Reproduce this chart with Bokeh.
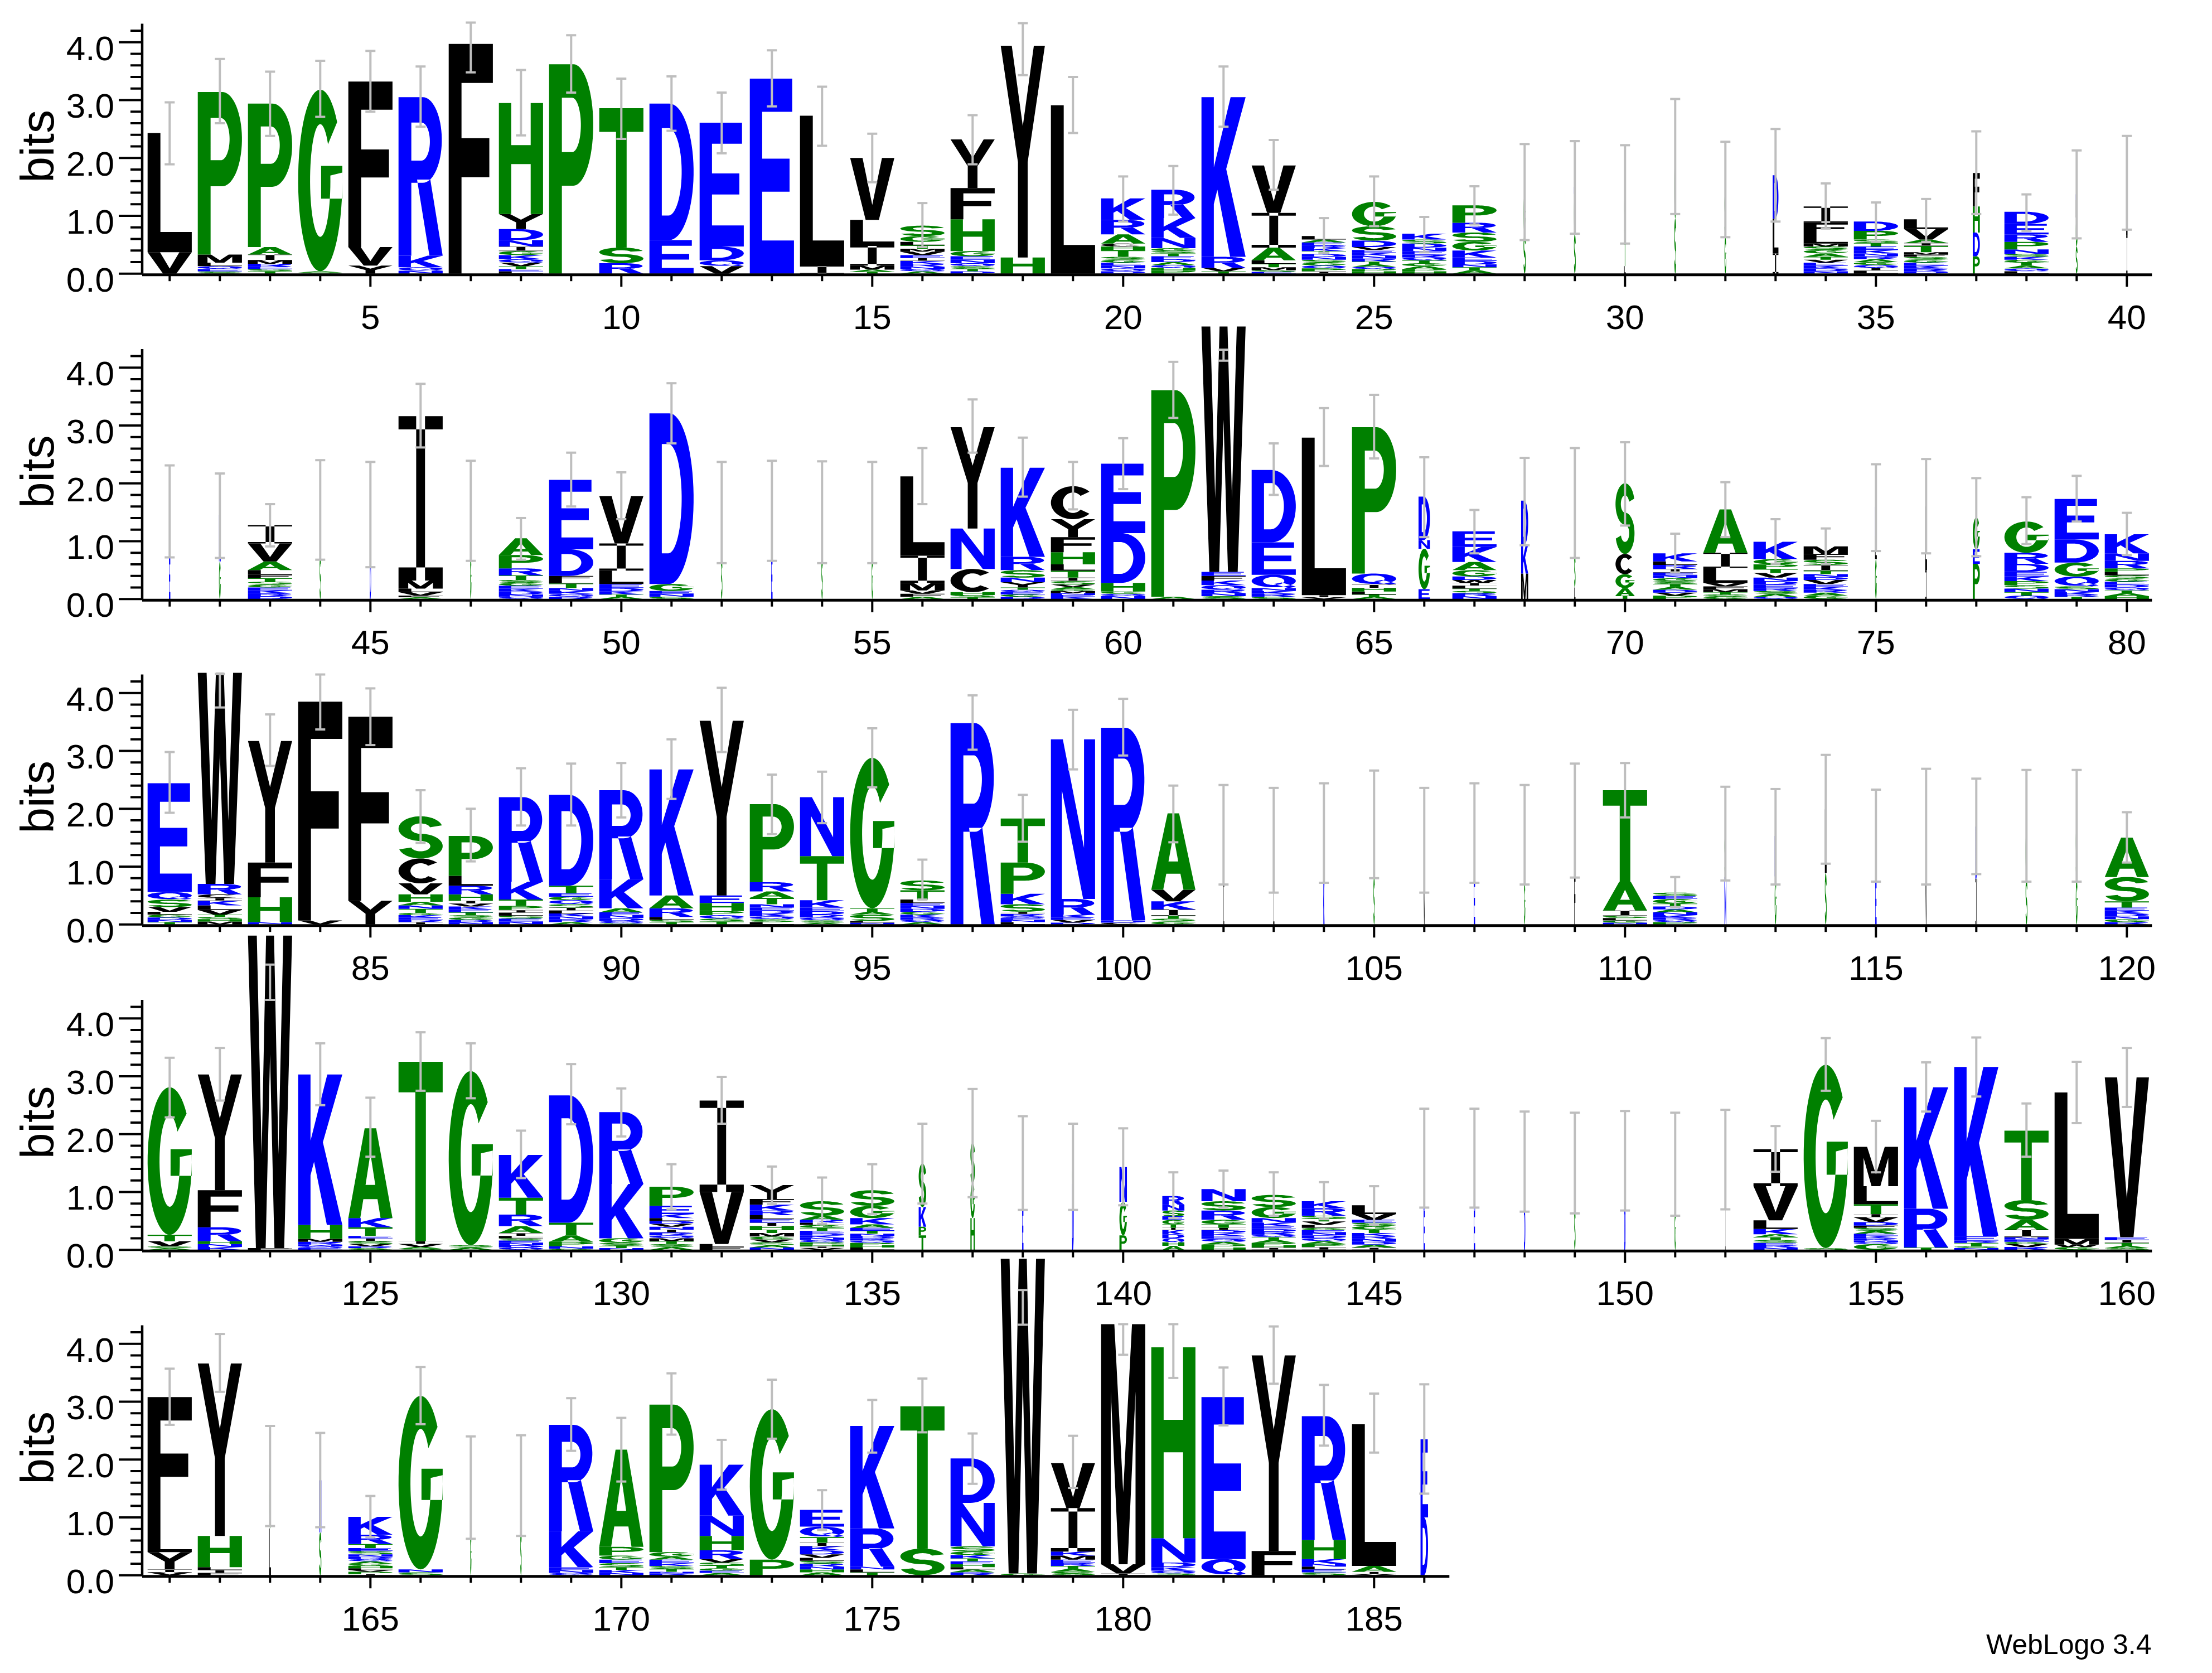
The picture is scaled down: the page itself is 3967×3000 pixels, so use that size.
import numpy as np
from bokeh.plotting import figure
from bokeh.models import ColumnDataSource
from bokeh.embed import file_html
from bokeh.resources import INLINE
from bokeh.core.properties import value

# ---------------- data (read from the reference logo) ----------------
# each stack: letters from top to bottom, "<letter><height in bits>"
ROW1_STACKS = [
    "L2.06 V0.37",
    "P2.81 M0.14 L0.06 Q0.05 E0.04 S0.04",
    "P2.48 A0.13 I0.10 M0.06 R0.05 E0.04 S0.04 T0.04",
    "G3.14 A0.02 S0.02",
    "F2.86 V0.32 Y0.14",
    "R2.74 K0.20 Q0.06 N0.05",
    "F3.97",
    "H1.92 Y0.26 D0.19 N0.11 I0.08 G0.07 K0.07 Q0.06 V0.06 T0.05 E0.04 L0.04",
    "P3.62",
    "T2.41 S0.27 R0.18",
    "D2.36 E0.58",
    "E2.14 D0.24 Q0.10 V0.13",
    "E3.37",
    "L2.60 I0.13",
    "V1.07 L0.45 I0.34 M0.07 A0.04 T0.03",
    "S0.18 G0.10 L0.06 T0.06 M0.05 V0.06 E0.05 I0.05 K0.05 R0.05 N0.04 Q0.04 A0.04",
    "Y0.84 F0.54 H0.55 G0.09 E0.06 N0.06 Q0.05 S0.05 T0.04 D0.04",
    "Y3.66 H0.28",
    "L2.91",
    "K0.37 R0.25 A0.16 C0.05 H0.06 T0.12 S0.05 G0.05 E0.05 N0.05 Q0.05 D0.04",
    "R0.49 K0.34 N0.18 G0.05 S0.04 T0.05 E0.05 D0.05 A0.05 Q0.05 H0.05 P0.05",
    "K2.76 R0.19 V0.06 T0.04",
    "V0.82 I0.60 A0.22 L0.06 T0.06 M0.05 S0.03 E0.03",
    "L0.06 A0.05 E0.05 R0.05 K0.05 T0.05 D0.05 N0.05 S0.05 G0.05 Q0.05 P0.05 I0.04",
    "G0.42 S0.25 D0.11 V0.05 E0.05 K0.05 N0.05 R0.05 T0.05 A0.04 Q0.04 P0.04 H0.04",
    "K0.10 S0.07 D0.07 N0.06 E0.06 R0.05 Q0.05 T0.05 G0.05 A0.05 P0.04 H0.04",
    "P0.30 R0.17 S0.16 G0.15 K0.12 E0.06 D0.06 N0.05 T0.05 A0.06",
    "G0.70 S0.68",
    "D0.12 G0.70 S0.68",
    "S0.80 T0.45 L0.13",
    "G1.10 S0.95",
    "S0.80 G0.63",
    "D0.75 L0.60 I0.35",
    "I0.28 F0.19 L0.17 M0.05 S0.06 G0.06 A0.06 T0.05 V0.05 E0.05 K0.05 D0.05 N0.04",
    "D0.16 P0.15 S0.06 T0.06 E0.06 K0.06 N0.05 R0.05 A0.05 G0.05 Q0.05 I0.05 L0.05",
    "L0.17 V0.18 A0.06 I0.05 T0.11 M0.04 F0.04 S0.05 G0.05 E0.05 K0.05 R0.05 D0.04",
    "F0.58 H0.45 D0.41 P0.30",
    "D0.21 E0.18 R0.13 P0.13 N0.08 S0.05 K0.05 G0.05 T0.05 A0.05 Q0.05 L0.04",
    "N0.10 L0.30 G0.50 S0.47",
    "L0.90 I0.67",
]
ROW2_STACKS = [
    "D0.80 E0.72",
    "N0.80 G0.65",
    "I0.32 V0.31 A0.15 L0.08 F0.06 T0.06 S0.05 G0.05 E0.05 K0.05 R0.05 D0.05",
    "G0.80 S0.74",
    "L0.80 D0.66",
    "I2.84 M0.14 L0.06 V0.06 F0.03 A0.03",
    "S0.80 G0.72",
    "A0.29 P0.23 R0.12 T0.08 S0.05 G0.05 E0.05 K0.05 D0.05 N0.04 Q0.04",
    "E1.20 D0.46 F0.07 L0.06 T0.08 N0.05 K0.05 Q0.05 R0.04",
    "V0.82 I0.47 L0.23 E0.07 D0.06 K0.05 T0.04 A0.04",
    "D2.95 G0.12 E0.05 N0.05 S0.04",
    "G0.80 S0.70",
    "D0.80 E0.72",
    "G0.80 S0.70",
    "S0.80 G0.70",
    "L1.37 I0.47 M0.13 V0.06 F0.05 A0.04",
    "Y1.75 N0.70 C0.40 H0.05 S0.04 T0.03",
    "K1.54 R0.23 S0.13 N0.08 Y0.09 T0.04 Q0.04 E0.04 G0.04 D0.04",
    "C0.57 Y0.31 F0.26 H0.21 L0.11 T0.12 I0.06 S0.06 V0.04 A0.04 G0.03 M0.04 N0.03 E0.03 K0.04",
    "E1.20 D0.86 H0.15 G0.04 Q0.04 N0.05",
    "P3.57 A0.04",
    "W4.24 E0.07 F0.08 K0.08 Q0.08 R0.06 N0.05 S0.05",
    "D1.25 E0.56 Q0.23 N0.05 K0.05 R0.05 S0.04",
    "L2.72 I0.04 V0.03",
    "P2.53 Q0.19 I0.06 H0.06 L0.05 T0.04 A0.04",
    "D0.75 N0.15 G0.70 E0.17",
    "E0.27 K0.26 A0.14 G0.11 D0.06 W0.05 I0.05 L0.05 T0.04 S0.04 R0.05 N0.05",
    "D0.76 K0.50 M0.44",
    "G0.90 S0.56 L0.20",
    "S1.22 C0.35 G0.24 A0.13 T0.06",
    "K0.14 L0.06 R0.07 I0.06 E0.05 N0.05 G0.05 S0.05 T0.05 A0.05 D0.05 V0.05 P0.06",
    "A0.75 I0.26 L0.26 V0.06 F0.05 M0.05 T0.04 S0.04 G0.04",
    "K0.30 G0.09 P0.08 T0.07 V0.08 N0.06 D0.06 E0.06 R0.05 S0.05 A0.05 Q0.04",
    "M0.13 F0.10 S0.09 I0.10 T0.06 N0.05 D0.05 V0.07 E0.05 K0.05 R0.05 A0.05 G0.06",
    "N0.50 L0.40 G0.69",
    "L1.10 I0.50",
    "G0.55 E0.25 P0.61",
    "G0.54 R0.19 D0.14 E0.08 K0.08 P0.07 S0.06 N0.06 T0.06 Q0.06",
    "E0.70 D0.40 G0.24 Q0.17 S0.05 N0.05 K0.04 R0.04 T0.04",
    "K0.33 N0.13 R0.13 P0.06 L0.06 S0.06 G0.05 E0.05 D0.05 Q0.05 T0.05 A0.05 H0.05",
]
ROW3_STACKS = [
    "E1.88 Q0.13 S0.13 V0.08 L0.05 G0.05 D0.04 N0.04 T0.04",
    "W3.65 R0.18 C0.06 I0.05 K0.08 L0.08 V0.08 T0.04 S0.04 H0.04 M0.05",
    "Y2.10 F0.60 H0.43 N0.04",
    "F3.78 V0.07",
    "F3.18 Y0.41",
    "S0.73 C0.43 V0.19 H0.13 A0.06 N0.06 T0.07 G0.04 K0.04 E0.04 R0.04 I0.04",
    "P0.69 L0.17 R0.15 H0.11 I0.05 V0.05 K0.05 E0.05 T0.05 S0.04 G0.04 D0.04 N0.04",
    "R1.46 K0.31 T0.11 P0.07 I0.05 L0.05 S0.05 E0.05 N0.05",
    "D1.57 T0.13 E0.06 G0.06 Q0.07 S0.06 I0.05 L0.05 K0.05 N0.05 R0.05 A0.04",
    "R1.54 K0.50 A0.07 E0.05 N0.05 D0.05 Q0.04 S0.02",
    "K2.18 A0.22 R0.15 L0.05 S0.04 T0.04",
    "Y3.02 E0.13 H0.14 P0.07 Q0.06 S0.05 T0.05",
    "P1.35 R0.16 A0.11 T0.11 N0.06 E0.05 D0.05 K0.05 Q0.05 S0.05 L0.04",
    "N1.02 T0.76 K0.13 E0.06 D0.06 R0.05 Q0.05 S0.04 A0.03",
    "G2.60 T0.06 A0.05 S0.11 L0.03 N0.03",
    "S0.17 T0.16 L0.06 E0.05 N0.05 D0.05 G0.05 K0.05 R0.04 Q0.04 A0.04",
    "R3.48",
    "T0.76 P0.54 K0.18 S0.13 I0.04 R0.04 Q0.03 E0.03 N0.04 L0.04",
    "N2.76 R0.27 K0.05 E0.04 V0.05 D0.03",
    "R3.33 D0.04 C0.03",
    "A1.32 V0.20 K0.14 I0.11 T0.05 S0.05 G0.05",
    "L0.85 I0.70",
    "V0.80 I0.66",
    "E0.80 K0.78",
    "G0.90 S0.82",
    "L0.80 V0.66",
    "K0.80 E0.78",
    "S0.80 G0.73",
    "L0.90 F0.89",
    "T1.58 A0.50 I0.09 S0.04 L0.04 G0.04 N0.03",
    "S0.06 E0.05 G0.08 T0.05 D0.05 A0.05 N0.05 K0.04 R0.04 Q0.04 P0.04",
    "S0.75 N0.82",
    "D0.70 G0.83",
    "L1.10 S0.89",
    "K0.80 E0.75",
    "L0.90 V0.79",
    "D0.90 I0.79",
    "G0.90 S0.80",
    "S0.90 G0.79",
    "A0.68 S0.42 T0.11 E0.05 K0.05 D0.05 N0.05 G0.05 R0.04",
]
ROW4_STACKS = [
    "G2.55 T0.11 V0.09 S0.03 A0.03",
    "Y2.00 F0.64 R0.24 H0.05 N0.05 K0.05",
    "W5.40 F0.03",
    "K2.60 H0.24 M0.05 R0.05 N0.03 Q0.03 E0.03",
    "A1.55 K0.16 T0.15 E0.04 I0.05 S0.05 V0.04 R0.03 G0.03",
    "T3.10 I0.05 V0.05 A0.03 S0.02",
    "G3.01 S0.04 A0.04",
    "K0.74 T0.29 R0.20 A0.12 I0.05 L0.04 S0.04 E0.04 N0.04 D0.04 Q0.04",
    "D2.20 T0.22 A0.11 P0.08 N0.04 G0.02",
    "R1.24 K0.94 G0.08 S0.05 T0.04 N0.03",
    "P0.33 E0.14 K0.07 L0.05 D0.05 V0.05 N0.05 I0.05 R0.05 Q0.05 M0.05 T0.05 S0.05 A0.05",
    "I1.58 V0.90 L0.05 F0.05",
    "Y0.24 F0.10 K0.10 R0.08 L0.07 E0.06 I0.06 H0.06 T0.06 M0.06 G0.05 V0.05 S0.05 A0.04 N0.04",
    "S0.25 A0.07 R0.05 L0.04 G0.05 T0.05 E0.04 D0.04 K0.04 N0.04 Q0.04 P0.04 H0.03 I0.03 V0.03",
    "S0.27 G0.21 K0.11 A0.06 E0.05 T0.05 N0.04 D0.04 R0.04 Q0.04 P0.04 H0.04 L0.04",
    "S0.75 K0.34 P0.15 T0.25",
    "S0.70 G0.60 H0.55",
    "D0.80 E0.71",
    "G0.30 D1.14",
    "N0.60 G0.58 P0.25",
    "R0.15 N0.10 S0.10 E0.06 G0.08 T0.06 I0.04 K0.07 D0.07 Q0.07 H0.06 A0.07",
    "N0.21 S0.16 R0.16 G0.08 T0.06 I0.04 D0.05 K0.05 E0.05 Q0.05 A0.05 P0.05 H0.04",
    "S0.21 G0.19 N0.08 K0.06 E0.05 D0.05 R0.05 Q0.04 T0.05 A0.05 P0.04 H0.04 I0.04",
    "K0.12 R0.13 S0.05 T0.05 V0.06 L0.05 G0.04 E0.04 N0.05 D0.05 Q0.05 A0.05 P0.05 I0.05",
    "L0.15 V0.10 E0.05 S0.06 G0.06 T0.06 K0.05 R0.05 N0.05 D0.05 A0.05 I0.04",
    "D0.90 E0.68",
    "K0.90 E0.68",
    "N0.80 D0.73",
    "G0.80 S0.71",
    "E0.80 D0.75",
    "S0.80 G0.68",
    "L0.80 I0.76",
    "I0.64 V0.59 L0.15 K0.09 A0.05 T0.05 S0.05 E0.04 R0.04 N0.04",
    "G3.17 S0.03",
    "M0.68 L0.31 T0.17 I0.06 V0.08 D0.06 F0.04 S0.05 A0.05 E0.04 K0.04 R0.04 N0.03 Q0.03 G0.10",
    "K2.10 R0.67 T0.04",
    "K2.92 E0.08 R0.04 T0.06 S0.03 N0.03",
    "T1.20 S0.34 A0.17 I0.13 N0.04 E0.04 G0.04 V0.05 R0.05",
    "L2.53 M0.10 W0.04 G0.05",
    "V2.76 E0.05 I0.05 T0.05 A0.04 S0.03",
]
ROW5_STACKS = [
    "F2.38 L0.30 Y0.30 I0.05 V0.05",
    "Y2.98 H0.54 L0.05 I0.05 F0.04",
    "G0.90 L0.81",
    "N0.90 S0.74",
    "K0.31 R0.16 T0.07 E0.05 S0.06 N0.04 D0.04 Q0.04 A0.04 G0.04 H0.04 L0.03 V0.03 P0.04 I0.02",
    "G3.00 N0.05 S0.05",
    "S0.80 G0.72",
    "G0.80 S0.75",
    "R1.84 K0.62 E0.05 N0.05 Q0.04",
    "A1.68 P0.15 G0.07 E0.06 S0.07 T0.05 K0.05 N0.04",
    "P2.55 G0.08 A0.05 E0.06 K0.05 S0.05 T0.05 N0.03 R0.03",
    "K0.88 N0.35 H0.25 R0.15 V0.06 S0.05 T0.05 G0.04 E0.04 A0.04",
    "G2.60 P0.27",
    "E0.29 Q0.18 T0.10 I0.06 K0.07 D0.07 V0.06 L0.05 S0.05 R0.05 N0.05 H0.05 A0.05",
    "K1.77 R0.66 N0.05 L0.05 T0.05",
    "T2.46 S0.46",
    "D0.77 N0.75 S0.09 G0.06 K0.06 T0.05 E0.05 H0.05 L0.04 A0.05 R0.05",
    "W5.44 G0.03",
    "V0.78 I0.75 K0.07 M0.07 E0.06 R0.05 T0.05 A0.05 S0.06",
    "M4.15 V0.16 I0.03",
    "H3.30 N0.42 D0.08 K0.06 Q0.05 S0.03",
    "E2.80 Q0.28",
    "Y3.38 F0.42",
    "R2.14 H0.33 K0.08 N0.05 L0.05 E0.05 S0.05",
    "L2.45 A0.10 I0.04 V0.02",
    "E1.35 D1.00",
]

# error bar ends (bits)
ROW1_ERR_LO = [1.89, 2.60, 2.38, 2.71, 2.80, 2.54, 3.48, 2.39, 3.13, 2.33, 2.47, 2.08, 2.89, 2.21, 1.58, 0.46, 1.89, 3.43, 2.43, 0.90,
               1.02, 2.54, 1.45, 0.36, 0.82, 0.37, 0.85, 0.58, 0.69, 0.52, 1.03, 0.63, 0.90, 0.78, 0.55, 0.55, 1.03, 0.74, 0.61, 0.76]
ROW1_ERR_HI = [2.96, 3.71, 3.49, 3.68, 3.85, 3.58, 4.34, 3.52, 4.12, 3.37, 3.41, 3.13, 3.86, 3.23, 2.42, 1.22, 2.74, 4.33, 3.40, 1.68,
               1.86, 3.58, 2.31, 0.96, 1.68, 0.98, 1.51, 2.24, 2.29, 2.22, 3.02, 2.28, 2.50, 1.56, 1.23, 1.29, 2.46, 1.37, 2.13, 2.38]
ROW2_ERR_LO = [0.72, 0.71, 0.91, 0.68, 0.55, 2.62, 0.66, 0.68, 1.60, 1.38, 2.69, 0.62, 0.66, 0.62, 0.62, 1.64, 2.53, 1.77, 1.55, 1.90,
               3.13, 4.12, 1.80, 2.30, 2.43, 1.07, 0.79, 0.93, 0.71, 1.27, 0.46, 1.07, 0.61, 0.61, 0.83, 0.79, 0.74, 0.95, 1.34, 0.76]
ROW2_ERR_HI = [2.31, 2.17, 1.64, 2.40, 2.37, 3.72, 2.39, 1.40, 2.53, 2.19, 3.73, 2.37, 2.39, 2.38, 2.37, 2.61, 3.45, 2.79, 2.37, 2.78,
               4.10, 4.31, 2.69, 3.30, 3.53, 2.45, 1.54, 2.44, 2.61, 2.71, 1.13, 2.02, 1.38, 1.22, 2.33, 2.42, 2.09, 1.76, 2.13, 1.49]
ROW3_ERR_LO = [1.93, 3.75, 2.74, 3.37, 3.10, 1.41, 1.09, 1.71, 1.71, 1.85, 2.17, 2.98, 1.56, 1.75, 2.37, 0.43, 3.02, 1.43, 2.68, 2.92,
               1.42, 0.69, 0.55, 0.72, 0.80, 0.55, 0.72, 0.69, 0.81, 1.85, 0.30, 0.76, 0.69, 1.05, 0.74, 0.69, 0.87, 0.74, 0.74, 1.07]
ROW3_ERR_HI = [2.98, 4.33, 3.63, 4.32, 4.08, 2.32, 2.00, 2.70, 2.78, 2.79, 3.20, 4.09, 2.59, 2.64, 3.39, 1.12, 3.96, 2.24, 3.71, 3.90,
               2.40, 2.41, 2.36, 2.44, 2.66, 2.36, 2.44, 2.41, 2.78, 2.79, 0.82, 2.38, 2.34, 2.93, 2.33, 2.69, 2.52, 2.67, 2.67, 1.94]
ROW4_ERR_LO = [2.29, 2.58, 4.32, 2.50, 1.61, 2.75, 2.62, 1.24, 2.17, 1.96, 0.70, 2.18, 0.79, 0.45, 0.62, 0.80, 0.91, 0.69, 0.69, 0.77,
               0.55, 0.73, 0.59, 0.53, 0.43, 0.73, 0.73, 0.66, 0.63, 0.68, 0.59, 0.70, 1.35, 2.75, 1.34, 2.39, 2.65, 1.61, 2.19, 2.47]
ROW4_ERR_HI = [3.32, 3.49, 4.93, 3.57, 2.63, 3.76, 3.57, 2.06, 3.21, 2.79, 1.48, 2.99, 1.44, 1.25, 1.48, 2.18, 2.78, 2.31, 2.18, 2.10,
               1.34, 1.37, 1.34, 1.17, 1.10, 2.44, 2.44, 2.39, 2.37, 2.40, 2.37, 2.42, 2.14, 3.66, 2.23, 3.24, 3.67, 2.53, 3.25, 3.49]
ROW5_ERR_LO = [2.60, 3.17, 0.85, 0.83, 0.66, 2.61, 0.63, 0.68, 2.15, 1.62, 2.43, 1.48, 2.36, 0.78, 2.12, 2.47, 1.58, 4.33, 1.51, 3.81,
               3.41, 2.59, 3.31, 2.24, 2.12, 1.41]
ROW5_ERR_HI = [3.57, 4.17, 2.58, 2.46, 1.37, 3.60, 2.40, 2.42, 3.06, 2.72, 3.49, 2.34, 3.38, 1.47, 3.03, 3.40, 2.45, 4.93, 2.41, 4.34,
               4.34, 3.59, 4.30, 3.29, 3.14, 3.30]

# fraction of full stack width (columns with many gaps are drawn narrow)
STACK_WIDTH = {28: 0.05, 29: 0.04, 30: 0.04, 31: 0.04, 32: 0.04, 33: 0.13, 37: 0.16, 39: 0.04, 40: 0.03,
               41: 0.03, 42: 0.04, 44: 0.03, 45: 0.03, 47: 0.03, 52: 0.03, 53: 0.03, 54: 0.03, 55: 0.03,
               66: 0.26, 68: 0.16, 69: 0.03, 70: 0.43, 75: 0.04, 76: 0.04, 77: 0.16,
               102: 0.03, 103: 0.03, 104: 0.03, 105: 0.03, 106: 0.03, 107: 0.03, 108: 0.03, 109: 0.03,
               112: 0.04, 113: 0.04, 114: 0.04, 115: 0.03, 116: 0.03, 117: 0.04, 118: 0.04, 119: 0.04,
               136: 0.17, 137: 0.10, 138: 0.03, 139: 0.04, 140: 0.17, 141: 0.50,
               146: 0.03, 147: 0.03, 148: 0.03, 149: 0.03, 150: 0.03, 151: 0.03, 152: 0.01,
               163: 0.04, 164: 0.05, 167: 0.03, 168: 0.03, 186: 0.17}

Y_TICKS = [0, 1, 2, 3, 4]
Y_TICK_LABELS = ["0.0", "1.0", "2.0", "3.0", "4.0"]
Y_MINOR_TICKS = [0.2, 0.4, 0.6, 0.8, 1.2, 1.4, 1.6, 1.8, 2.2, 2.4, 2.6, 2.8, 3.2, 3.4, 3.6, 3.8, 4.2]
COLOR_GROUPS = {"#008000": "AGHPST", "#0000ff": "DEKNQR", "#000000": "CFILMVWY"}

ROWS = [ROW1_STACKS, ROW2_STACKS, ROW3_STACKS, ROW4_STACKS, ROW5_STACKS]
ERR_LO = [ROW1_ERR_LO, ROW2_ERR_LO, ROW3_ERR_LO, ROW4_ERR_LO, ROW5_ERR_LO]
ERR_HI = [ROW1_ERR_HI, ROW2_ERR_HI, ROW3_ERR_HI, ROW4_ERR_HI, ROW5_ERR_HI]

# ---------------- layout constants ----------------
W_PX, H_PX = 3951, 2984
PX_PER_POS = 90.0
PX_PER_BIT = 103.75
X0 = 1 - 303.8 / PX_PER_POS
X1 = X0 + W_PX / PX_PER_POS
Y1 = 490.2 / PX_PER_BIT
Y0 = Y1 - H_PX / PX_PER_BIT
ROW_STEP = 583.5 / PX_PER_BIT
LETTER_W = 0.88
AXIS_X = 0.452
YMAX = 4.32
FONT = "Liberation Sans"


def px_x(p):
    return p / PX_PER_POS


def px_y(p):
    return p / PX_PER_BIT


# ---------------- letter outlines in a unit box ----------------
def seg(points):
    a = np.array(points, dtype=float)
    return a[:, 0], a[:, 1]


def arc(cx, cy, rx, ry, a0, a1, n=36):
    t = np.radians(np.linspace(a0, a1, n))
    return cx + rx * np.cos(t), cy + ry * np.sin(t)


def ring(*parts):
    return (np.concatenate([q[0] for q in parts]), np.concatenate([q[1] for q in parts]))


def rect(x0, y0, x1, y1):
    return ring(seg([(x0, y0), (x1, y0), (x1, y1), (x0, y1)]))


def s_shape():
    tx, ty = 0.28, 0.17
    rx = 0.5 - tx / 2
    ry = (0.5 - ty / 2) / 2
    c1 = 1 - ty / 2 - ry
    c2 = ty / 2 + ry
    at = np.radians(np.linspace(15, 270, 44))
    ab = np.radians(np.linspace(90, -165, 44))
    tox, toy = 0.5 + (rx + tx / 2) * np.cos(at), c1 + (ry + ty / 2) * np.sin(at)
    tix, tiy = 0.5 + (rx - tx / 2) * np.cos(at), c1 + (ry - ty / 2) * np.sin(at)
    box, boy = 0.5 + (rx + tx / 2) * np.cos(ab), c2 + (ry + ty / 2) * np.sin(ab)
    bix, biy = 0.5 + (rx - tx / 2) * np.cos(ab), c2 + (ry - ty / 2) * np.sin(ab)
    ax, ay = np.concatenate([tox, bix]), np.concatenate([toy, biy])
    bx, by = np.concatenate([tix, box]), np.concatenate([tiy, boy])
    return [[(np.concatenate([ax, bx[::-1]]), np.concatenate([ay, by[::-1]]))]]


GLYPHS = {
    "A": [[ring(seg([(0, 0), (0.37, 1), (0.63, 1), (1, 0), (0.73, 0), (0.66, 0.21), (0.34, 0.21), (0.27, 0)])),
           ring(seg([(0.39, 0.37), (0.61, 0.37), (0.5, 0.72)]))]],
    "C": [[ring(arc(0.5, 0.5, 0.5, 0.5, 42, 318, 48), arc(0.5, 0.5, 0.23, 0.31, 318, 42, 48))]],
    "D": [[ring(seg([(0, 0), (0, 1), (0.45, 1)]), arc(0.45, 0.5, 0.55, 0.5, 90, -90)),
           ring(seg([(0.28, 0.18), (0.28, 0.82), (0.43, 0.82)]), arc(0.43, 0.5, 0.3, 0.32, 90, -90))]],
    "E": [[ring(seg([(0, 0), (0, 1), (0.96, 1), (0.96, 0.83), (0.28, 0.83), (0.28, 0.59), (0.9, 0.59), (0.9, 0.42),
                     (0.28, 0.42), (0.28, 0.17), (1, 0.17), (1, 0)]))]],
    "F": [[ring(seg([(0, 0), (0, 1), (1, 1), (1, 0.83), (0.29, 0.83), (0.29, 0.59), (0.92, 0.59), (0.92, 0.42),
                     (0.29, 0.42), (0.29, 0)]))]],
    "G": [[ring(arc(0.5, 0.5, 0.5, 0.5, 40, 365, 56), arc(0.5, 0.5, 0.23, 0.31, 365, 40, 56))],
          [rect(0.52, 0.40, 1.0, 0.58)]],
    "H": [[ring(seg([(0, 0), (0, 1), (0.28, 1), (0.28, 0.62), (0.72, 0.62), (0.72, 1), (1, 1), (1, 0), (0.72, 0),
                     (0.72, 0.45), (0.28, 0.45), (0.28, 0)]))]],
    "I": [[rect(0, 0.92, 1, 1)], [rect(0.4, 0, 0.6, 1)], [rect(0, 0, 1, 0.08)]],
    "K": [[ring(seg([(0, 0), (0, 1), (0.28, 1), (0.28, 0.56), (0.66, 1), (1, 1), (0.56, 0.55), (1, 0), (0.65, 0),
                     (0.36, 0.42), (0.28, 0.33), (0.28, 0)]))]],
    "L": [[ring(seg([(0, 0), (0, 1), (0.29, 1), (0.29, 0.17), (1, 0.17), (1, 0)]))]],
    "M": [[ring(seg([(0, 0), (0, 1), (0.3, 1), (0.5, 0.3), (0.7, 1), (1, 1), (1, 0), (0.78, 0), (0.78, 0.72),
                     (0.6, 0), (0.4, 0), (0.22, 0.72), (0.22, 0)]))]],
    "N": [[ring(seg([(0, 0), (0, 1), (0.27, 1), (0.75, 0.32), (0.75, 1), (1, 1), (1, 0), (0.73, 0), (0.25, 0.68),
                     (0.25, 0)]))]],
    "P": [[ring(seg([(0, 0), (0, 1), (0.55, 1)]), arc(0.55, 0.71, 0.45, 0.29, 90, -90), seg([(0.29, 0.42), (0.29, 0)])),
           ring(seg([(0.29, 0.58), (0.29, 0.84), (0.52, 0.84)]), arc(0.52, 0.71, 0.2, 0.13, 90, -90))]],
    "Q": [[ring(arc(0.5, 0.53, 0.5, 0.47, 0, 360, 64)), ring(arc(0.5, 0.53, 0.24, 0.3, 0, 360, 64))],
          [ring(seg([(0.5, 0.3), (0.68, 0.42), (1.0, 0.1), (0.84, 0.0)]))]],
    "R": [[ring(seg([(0, 0), (0, 1), (0.55, 1)]), arc(0.55, 0.73, 0.43, 0.27, 90, -90), seg([(0.29, 0.46), (0.29, 0)])),
           ring(seg([(0.29, 0.6), (0.29, 0.84), (0.52, 0.84)]), arc(0.52, 0.72, 0.19, 0.12, 90, -90))],
          [ring(seg([(0.42, 0.48), (0.72, 0.48), (1.0, 0), (0.7, 0)]))]],
    "S": s_shape(),
    "T": [[ring(seg([(0, 1), (1, 1), (1, 0.83), (0.62, 0.83), (0.62, 0), (0.38, 0), (0.38, 0.83), (0, 0.83)]))]],
    "V": [[ring(seg([(0, 1), (0.28, 1), (0.5, 0.24), (0.72, 1), (1, 1), (0.65, 0), (0.35, 0)]))]],
    "W": [[ring(seg([(0, 1), (0.2, 1), (0.31, 0.3), (0.41, 1), (0.59, 1), (0.69, 0.3), (0.8, 1), (1, 1), (0.82, 0),
                     (0.6, 0), (0.5, 0.62), (0.4, 0), (0.18, 0)]))]],
    "Y": [[ring(seg([(0, 1), (0.25, 1), (0.5, 0.62), (0.75, 1), (1, 1), (0.61, 0.45), (0.61, 0), (0.39, 0),
                     (0.39, 0.45)]))]],
}


def signed_area(x, y):
    return 0.5 * np.sum(x * np.roll(y, -1) - np.roll(x, -1) * y)


for k, polys in GLYPHS.items():
    fixed = []
    for poly in polys:
        new = []
        for j, (x, y) in enumerate(poly):
            a = signed_area(x, y)
            if (j == 0 and a < 0) or (j > 0 and a > 0):
                x, y = x[::-1], y[::-1]
            new.append((x, y))
        fixed.append(new)
    GLYPHS[k] = fixed

LETTER_COLOR = {ch: col for col, chars in COLOR_GROUPS.items() for ch in chars}

# ---------------- build marks ----------------
let_xs, let_ys, let_col = [], [], []
eb = dict(x0=[], y0=[], x1=[], y1=[])
cap = dict(x0=[], y0=[], x1=[], y1=[])
cap_half = px_x(9)

for r, row in enumerate(ROWS):
    base = -r * ROW_STEP
    for i, stack in enumerate(row):
        pos = r * 40 + i + 1
        c = i + 1
        w = STACK_WIDTH.get(pos, 1.0) * LETTER_W
        items = [(t[0], float(t[1:])) for t in stack.split()]
        y = base
        for ch, h in reversed(items):
            xs_l, ys_l = [], []
            for poly in GLYPHS[ch]:
                xs_l.append([list(c - w / 2 + gx * w) for gx, gy in poly])
                ys_l.append([list(y + gy * h) for gx, gy in poly])
            let_xs.append(xs_l)
            let_ys.append(ys_l)
            let_col.append(LETTER_COLOR[ch])
            y += h
        lo = base + ERR_LO[r][i]
        hi = base + ERR_HI[r][i]
        eb["x0"].append(c); eb["x1"].append(c); eb["y0"].append(lo); eb["y1"].append(hi)
        for yy in (lo, hi):
            cap["x0"].append(c - cap_half); cap["x1"].append(c + cap_half)
            cap["y0"].append(yy); cap["y1"].append(yy)

p = figure(width=W_PX, height=H_PX, x_range=(X0, X1), y_range=(Y0, Y1),
           output_backend="svg", toolbar_location=None, x_axis_type=None, y_axis_type=None,
           min_border=0, outline_line_color=None, background_fill_color="white")
p.grid.visible = False

p.multi_polygons(xs="xs", ys="ys", fill_color="color", line_color=None,
                 source=ColumnDataSource(dict(xs=let_xs, ys=let_ys, color=let_col)))

ERR_COLOR = "#bebebe"
p.segment(x0="x0", y0="y0", x1="x1", y1="y1", line_color=ERR_COLOR, line_width=4,
          source=ColumnDataSource(eb))
p.segment(x0="x0", y0="y0", x1="x1", y1="y1", line_color=ERR_COLOR, line_width=4,
          source=ColumnDataSource(cap))

# ---------------- hand-drawn axes for each row ----------------
ax_seg = dict(x0=[], y0=[], x1=[], y1=[], w=[])
ylab = dict(x=[], y=[], t=[])
xlab = dict(x=[], y=[], t=[])
bits = dict(x=[], y=[], t=[])
for r, row in enumerate(ROWS):
    base = -r * ROW_STEP
    n = len(row)
    # y axis line
    ax_seg["x0"].append(AXIS_X); ax_seg["x1"].append(AXIS_X)
    ax_seg["y0"].append(base); ax_seg["y1"].append(base + YMAX); ax_seg["w"].append(4.5)
    for v, lab in zip(Y_TICKS, Y_TICK_LABELS):
        ax_seg["x0"].append(AXIS_X - px_x(42)); ax_seg["x1"].append(AXIS_X)
        ax_seg["y0"].append(base + v); ax_seg["y1"].append(base + v); ax_seg["w"].append(4)
        ylab["x"].append(AXIS_X - px_x(50)); ylab["y"].append(base + v - px_y(11)); ylab["t"].append(lab)
    for v in Y_MINOR_TICKS:
        ax_seg["x0"].append(AXIS_X - px_x(21)); ax_seg["x1"].append(AXIS_X)
        ax_seg["y0"].append(base + v); ax_seg["y1"].append(base + v); ax_seg["w"].append(4)
    # x axis line
    xa = base - px_y(2)
    ax_seg["x0"].append(AXIS_X); ax_seg["x1"].append(n + 0.5)
    ax_seg["y0"].append(xa); ax_seg["y1"].append(xa); ax_seg["w"].append(5)
    for i in range(n):
        pos = r * 40 + i + 1
        c = i + 1
        major = pos % 5 == 0
        ax_seg["x0"].append(c); ax_seg["x1"].append(c)
        ax_seg["y0"].append(xa); ax_seg["y1"].append(xa - px_y(21.5 if major else 11.5)); ax_seg["w"].append(4)
        if major:
            xlab["x"].append(c); xlab["y"].append(base - px_y(78)); xlab["t"].append(str(pos))
    bits["x"].append(X0 + px_x(66)); bits["y"].append(base + 2.2); bits["t"].append("bits")

p.segment(x0="x0", y0="y0", x1="x1", y1="y1", line_width="w", line_color="black", line_cap="butt",
          source=ColumnDataSource(ax_seg))
p.text(x="x", y="y", text="t", source=ColumnDataSource(ylab), text_font=value(FONT),
       text_font_size=value("62px"), text_align="right", text_baseline="alphabetic", text_color="black")
p.text(x="x", y="y", text="t", source=ColumnDataSource(xlab), text_font=value(FONT),
       text_font_size=value("62px"), text_align="center", text_baseline="alphabetic", text_color="black")
p.text(x="x", y="y", text="t", source=ColumnDataSource(bits), text_font=value(FONT),
       text_font_size=value("84px"), text_align="center", text_baseline="alphabetic", angle=np.pi / 2,
       text_color="black")
p.text(x=[X0 + px_x(3858)], y=[Y1 - px_y(2948)], text=["WebLogo 3.4"], text_font=value(FONT),
       text_font_size=value("50px"), text_align="right", text_baseline="alphabetic", text_color="black")

open("out.html", "w").write(file_html(p, INLINE))
